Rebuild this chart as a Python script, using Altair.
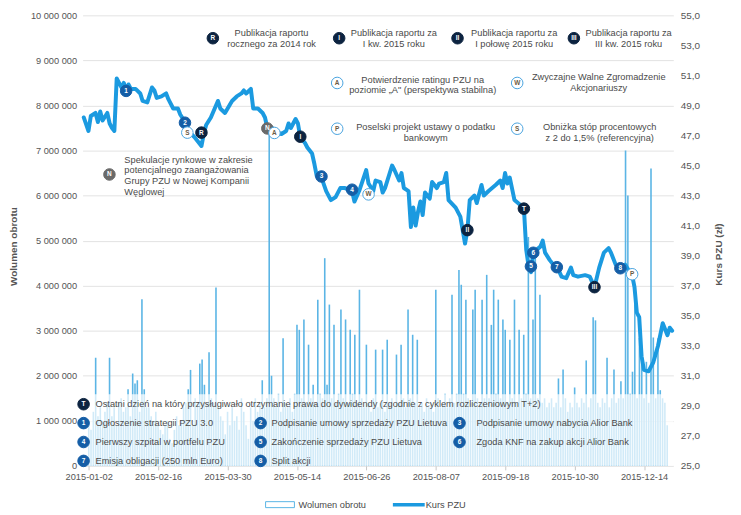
import altair as alt
import pandas as pd

# ---------------- data ----------------
date_ticks = ["2015-01-02", "2015-02-16", "2015-03-30", "2015-05-14", "2015-06-26",
              "2015-08-07", "2015-09-18", "2015-10-30", "2015-12-14"]
tick_days = [0, 30, 60, 90, 120, 150, 180, 210, 240]

# daily trading volume (millions of shares), trading day 0 = 2015-01-02
volume_mln = [
    1.0, 0.8, 1.2, 2.4, 1.1, 1.3, 1.0, 1.2, 1.4, 2.4,
    1.1, 1.3, 0.9, 1.4, 1.5, 1.2, 1.3, 1.7, 1.1, 2.05,
    1.83, 1.9, 1.2, 3.7, 1.7, 1.3, 1.3, 1.1, 1.0, 1.2,
    0.9, 0.8, 0.7, 0.9, 1.0, 0.6, 0.5, 0.8, 1.1, 0.9,
    1.0, 1.3, 1.4, 1.7, 2.13, 0.9, 1.5, 1.4, 2.27, 2.36,
    1.8, 1.4, 2.52, 1.5, 1.4, 3.96, 1.3, 1.1, 1.0, 0.7,
    1.2, 0.9, 1.3, 1.0, 1.1, 0.8, 1.5, 1.2, 0.9, 0.6,
    1.3, 1.0, 1.5, 1.2, 1.4, 1.9, 1.3, 1.5, 7.45, 2.0,
    1.5, 1.3, 1.6, 1.2, 2.83, 1.4, 1.3, 1.5, 1.2, 1.6,
    3.13, 3.02, 1.5, 3.25, 1.4, 2.69, 1.5, 1.8, 1.4, 3.69,
    1.6, 1.5, 4.61, 1.8, 3.58, 1.5, 3.13, 1.4, 1.6, 3.47,
    1.5, 3.25, 1.4, 3.02, 1.6, 2.91, 1.4, 3.91, 1.5, 1.3,
    2.69, 1.4, 1.2, 1.5, 2.58, 1.3, 1.4, 2.58, 1.2, 2.80,
    1.4, 1.5, 1.3, 2.47, 1.4, 2.69, 1.5, 1.3, 3.47, 1.5,
    2.91, 1.4, 2.80, 1.3, 1.4, 1.2, 1.5, 1.3, 1.4, 1.2,
    3.91, 1.5, 1.3, 1.4, 1.6, 1.3, 1.5, 3.80, 1.4, 1.6,
    4.35, 4.02, 1.6, 3.69, 1.5, 1.4, 3.47, 3.91, 1.5, 1.4,
    3.69, 1.5, 4.24, 1.5, 3.13, 3.91, 1.6, 3.69, 1.5, 3.25,
    3.02, 1.4, 2.80, 1.5, 3.69, 1.4, 3.02, 1.5, 2.91, 1.6,
    5.08, 1.5, 3.25, 4.79, 1.5, 3.80, 1.4, 1.5, 1.3, 1.4,
    1.5, 1.3, 1.4, 1.94, 1.3, 2.14, 1.5, 1.2, 1.4, 1.3,
    1.74, 1.4, 1.3, 1.5, 1.4, 2.34, 1.3, 1.5, 3.30, 3.23,
    1.4, 1.3, 1.5, 1.4, 2.40, 1.3, 1.5, 2.14, 1.4, 1.5,
    1.88, 1.5, 7.0, 6.0, 1.6, 2.09, 3.59, 1.5, 2.84, 2.51,
    1.5, 2.31, 1.4, 6.6, 2.85, 1.5, 2.83, 1.68, 1.5, 1.4, 0.9,
]

# PZU closing price (zł): (trading day, price)
price_series = [
    (0, 48.2), (2, 47.3), (3, 48.3), (5, 48.5), (6, 47.9), (7, 48.6), (8, 48.0), (10, 48.5),
    (11, 47.8), (12, 47.5), (13, 47.3), (14, 50.8), (16, 50.2), (17, 50.5), (18, 50.0),
    (19, 50.4), (20, 50.1), (22, 50.1), (24, 49.8), (25, 49.3), (27, 49.2), (29, 50.2),
    (30, 50.0), (31, 49.5), (33, 49.6), (35, 49.8), (36, 49.4), (38, 48.8), (40, 48.8),
    (41, 48.4), (43, 47.9), (45, 47.2), (47, 46.9), (48, 46.7), (49, 46.5), (50, 46.3),
    (51, 47.1), (52, 47.7), (54, 48.2), (57, 49.3), (58, 48.8), (60, 48.5), (63, 49.3),
    (65, 49.6), (67, 49.8), (68, 50.0), (69, 49.8), (71, 50.1), (72, 48.8), (74, 48.8),
    (76, 48.5), (77, 48.2), (78, 47.5), (80, 47.5), (82, 47.2), (84, 47.1), (86, 47.3),
    (87, 47.8), (88, 47.5), (90, 48.1), (91, 47.8), (92, 46.9), (94, 46.5), (95, 46.2),
    (97, 45.8), (98, 45.1), (99, 44.3), (101, 44.2), (103, 43.3), (105, 42.7), (107, 42.9),
    (109, 43.5), (111, 43.5), (114, 43.3), (115, 42.6), (117, 43.3), (120, 44.7), (121, 43.8),
    (123, 43.3), (124, 44.0), (126, 43.9), (127, 43.2), (128, 43.5), (131, 45.0), (132, 44.7),
    (134, 44.0), (135, 44.5), (136, 43.5), (138, 43.3), (139, 40.9), (140, 42.2), (141, 41.0),
    (142, 41.9), (143, 42.6), (144, 41.7), (145, 43.2), (147, 42.8), (148, 43.9), (150, 43.5),
    (151, 43.8), (153, 43.9), (154, 44.5), (155, 42.7), (158, 42.2), (160, 41.6), (162, 39.8),
    (163, 40.7), (164, 42.7), (166, 43.0), (167, 42.5), (169, 43.7), (170, 43.0), (172, 43.3),
    (175, 43.7), (177, 44.0), (178, 43.5), (179, 44.5), (180, 43.8), (181, 44.2), (183, 42.7),
    (186, 42.3), (187, 42.2), (188, 39.4), (189, 38.3), (190, 37.9), (191, 39.2), (194, 39.6),
    (195, 40.0), (196, 39.2), (198, 38.7), (199, 38.5), (201, 38.3), (203, 37.6), (205, 37.5),
    (207, 38.2), (208, 37.7), (210, 37.6), (213, 37.7), (215, 37.6), (217, 36.9), (219, 38.2),
    (221, 39.2), (223, 39.5), (224, 39.2), (226, 38.4), (228, 38.1), (230, 38.4), (232, 37.9),
    (233, 37.7), (234, 36.9), (235, 35.2), (236, 34.9), (237, 32.3), (238, 31.4), (240, 31.3),
    (242, 31.9), (244, 33.0), (246, 34.5), (248, 33.7), (249, 34.2), (250, 34.0),
]

# events marked on the price line
event_code = ["1", "2", "S", "R", "N", "A", "I", "3", "4", "W", "II", "T", "5", "6", "7", "III", "8", "P"]
event_day = [18, 43, 44, 50, 78, 81, 92, 101, 114, 121, 163, 187, 190, 191, 201, 217, 228, 233]
event_price = [49.97, 47.85, 47.19, 47.19, 47.47, 47.17, 46.92, 44.27, 43.39, 43.08, 40.70,
               42.13, 38.28, 39.19, 38.23, 36.90, 38.16, 37.76]

event_text = {
    "R": ["Publikacja raportu", "rocznego za 2014 rok"],
    "I": ["Publikacja raportu za", "I kw. 2015 roku"],
    "II": ["Publikacja raportu za", "I połowę 2015 roku"],
    "III": ["Publikacja raportu za", "III kw. 2015 roku"],
    "A": ["Potwierdzenie ratingu PZU na", "poziomie „A\" (perspektywa stabilna)"],
    "W": ["Zwyczajne Walne Zgromadzenie", "Akcjonariuszy"],
    "P": ["Poselski projekt ustawy o podatku", "bankowym"],
    "S": ["Obniżka stóp procentowych", "z 2 do 1,5% (referencyjna)"],
    "N": ["Spekulacje rynkowe w zakresie", "potencjalnego zaangażowania",
          "Grupy PZU w Nowej Kompanii", "Węglowej"],
    "T": ["Ostatni dzień na który przysługiwało otrzymanie prawa do dywidendy "
          "(zgodnie z cyklem rozliczeniowym T+2)"],
    "1": ["Ogłoszenie strategii PZU 3.0"],
    "2": ["Podpisanie umowy sprzedaży PZU Lietuva"],
    "3": ["Podpisanie umowy nabycia Alior Bank"],
    "4": ["Pierwszy szpital w portfelu PZU"],
    "5": ["Zakończenie sprzedaży PZU Lietuva"],
    "6": ["Zgoda KNF na zakup akcji Alior Bank"],
    "7": ["Emisja obligacji (250 mln Euro)"],
    "8": ["Split akcji"],
}

series_names = ["Wolumen obrotu", "Kurs PZU"]

# ---------------- style / layout ----------------
FONT = "Liberation Sans"
TXT = "#4a4a4a"
AX = "#555555"
BAR = "#5bb5e5"
LINE = "#1b9ae0"
NAVY = "#0c2340"
BLUE = "#155ea6"
GREY = "#6a6a6a"
RING = "#4aa3df"
W, H = 594, 453
OX, OY = 83, 14           # plot origin on the page
DOMAIN_X = [-0.5, 250.5]

kind_style = {  # fill, stroke, letter colour
    "report": (NAVY, NAVY, "white"),
    "num": (BLUE, BLUE, "white"),
    "grey": (GREY, GREY, "white"),
    "open": ("white", RING, "#6b5b45"),
}


def kind_of(code):
    if code in ("R", "I", "II", "III", "T"):
        return "report"
    if code == "N":
        return "grey"
    if code in ("A", "W", "P", "S"):
        return "open"
    return "num"


# legend layout (page pixels): code -> (marker x, marker y, text x, first line y, line step, align)
legend_layout = {
    "R": (214, 37, 273, 32, 11, "center"),
    "I": (341, 37, 396, 32, 11, "center"),
    "II": (460, 37, 517, 32, 11, "center"),
    "III": (577, 37, 632, 32, 11, "center"),
    "A": (339, 82, 425, 79, 10.5, "center"),
    "W": (520, 82, 602, 76, 11, "center"),
    "P": (339, 128, 428, 126, 11, "center"),
    "S": (520, 128, 603, 126, 11, "center"),
    "N": (110, 174, 125, 159, 11, "left"),
    "T": (84, 405, 96, 405, 0, "left"),
    "1": (84, 424, 96, 424, 0, "left"),
    "2": (262, 424, 273, 424, 0, "left"),
    "3": (462, 424, 479, 424, 0, "left"),
    "4": (84, 443, 96, 443, 0, "left"),
    "5": (262, 443, 273, 443, 0, "left"),
    "6": (462, 443, 479, 443, 0, "left"),
    "7": (84, 462, 96, 462, 0, "left"),
    "8": (262, 462, 273, 462, 0, "left"),
}

# ---------------- tables ----------------
vol_df = pd.DataFrame({"day": list(range(len(volume_mln))),
                       "vol": [v * 1_000_000 for v in volume_mln]})
price_df = pd.DataFrame(price_series, columns=["day", "price"])

ev_rows = []
for c, d, p in zip(event_code, event_day, event_price):
    f, s, t = kind_style[kind_of(c)]
    ev_rows.append({"code": c, "day": d, "price": p, "fill": f, "stroke": s, "tcol": t})
ev_df = pd.DataFrame(ev_rows)

lg_mark, lg_text = [], []
for c, (mx, my, tx, ty, step, al) in legend_layout.items():
    f, s, t = kind_style[kind_of(c)]
    lg_mark.append({"code": c, "px": mx - OX, "py": my - OY, "fill": f, "stroke": s, "tcol": t})
    for i, line in enumerate(event_text[c]):
        lg_text.append({"px": tx - OX, "py": ty + i * step - OY, "text": line, "align": al})
lg_mark_df = pd.DataFrame(lg_mark)
lg_text_df = pd.DataFrame(lg_text)

# ---------------- encodings ----------------
tick_expr = "[" + ",".join("'%s'" % d for d in date_ticks) + "][datum.value / 30]"

x_axis = alt.X("day:Q", scale=alt.Scale(domain=DOMAIN_X, nice=False, zero=False),
               axis=alt.Axis(values=tick_days, labelExpr=tick_expr, grid=False, domain=False,
                             ticks=True, tickSize=4, tickColor="#c8c8c8", labelPadding=3,
                             labelFont=FONT, labelFontSize=9.3, labelColor=AX, title=None))
x_plain = alt.X("day:Q", scale=alt.Scale(domain=DOMAIN_X, nice=False, zero=False), axis=None)

y_vol = alt.Y("vol:Q", scale=alt.Scale(domain=[0, 10_000_000], nice=False),
              axis=alt.Axis(values=list(range(0, 10_000_001, 1_000_000)),
                            labelExpr="replace(format(datum.value, ','), regexp(',', 'g'), ' ')",
                            grid=True, gridColor="#e3e3e3", ticks=False, domain=False,
                            labelPadding=6, labelFont=FONT, labelFontSize=9.3, labelColor=AX,
                            title="Wolumen obrotu", titleFont=FONT, titleFontSize=10,
                            titleFontWeight="bold", titleColor=AX, titleAngle=270,
                            titleX=-69, titleY=232, titleAlign="center", titleBaseline="middle"))

price_scale = alt.Scale(domain=[25, 55], nice=False, zero=False)
y_price = alt.Y("price:Q", scale=price_scale,
                axis=alt.Axis(orient="right", values=list(range(25, 56, 2)),
                              labelExpr="replace(format(datum.value, '.1f'), '.', ',')",
                              grid=False, ticks=False, domain=False, labelPadding=7,
                              labelFont=FONT, labelFontSize=10, labelColor=AX,
                              title="Kurs PZU (zł)", titleFont=FONT, titleFontSize=10,
                              titleFontWeight="bold", titleColor=AX, titleAngle=270,
                              titleX=45, titleY=240, titleAlign="center", titleBaseline="middle"))
y_price_plain = alt.Y("price:Q", scale=price_scale, axis=None)

px = alt.X("px:Q", scale=None, axis=None)
py = alt.Y("py:Q", scale=None, axis=None)

# ---------------- layers ----------------
bars = alt.Chart(vol_df).mark_bar(size=1.6, color=BAR).encode(x=x_axis, y=y_vol)

veil = alt.Chart(pd.DataFrame({"k": [0]})).mark_rect(fill="white", opacity=0.72).encode(
    x=alt.value(0), x2=alt.value(W), y=alt.value(395 - OY), y2=alt.value(H))

line = alt.Chart(price_df).mark_line(color=LINE, strokeWidth=4, strokeJoin="round",
                                     strokeCap="round").encode(x=x_plain, y=y_price)

ev_pts = alt.Chart(ev_df).mark_point(shape="circle", filled=True, size=135, strokeWidth=1,
                                     opacity=1).encode(
    x=x_plain, y=y_price_plain,
    fill=alt.Fill("fill:N", scale=None), stroke=alt.Stroke("stroke:N", scale=None))
ev_lbl = alt.Chart(ev_df).mark_text(font=FONT, fontSize=6.5, fontWeight="bold").encode(
    x=x_plain, y=y_price_plain, text="code:N", color=alt.Color("tcol:N", scale=None))

lg_pts = alt.Chart(lg_mark_df).mark_point(shape="circle", filled=True, size=135, strokeWidth=1,
                                          opacity=1).encode(
    x=px, y=py, fill=alt.Fill("fill:N", scale=None), stroke=alt.Stroke("stroke:N", scale=None))
lg_lbl = alt.Chart(lg_mark_df).mark_text(font=FONT, fontSize=6.5, fontWeight="bold").encode(
    x=px, y=py, text="code:N", color=alt.Color("tcol:N", scale=None))

txt_left = alt.Chart(lg_text_df[lg_text_df["align"] == "left"]).mark_text(
    font=FONT, fontSize=9.3, color=TXT, align="left", baseline="middle").encode(x=px, y=py, text="text:N")
txt_center = alt.Chart(lg_text_df[lg_text_df["align"] == "center"]).mark_text(
    font=FONT, fontSize=9.3, color=TXT, align="center", baseline="middle").encode(x=px, y=py, text="text:N")

# bottom series legend
key_rect = alt.Chart(pd.DataFrame({"k": [0]})).mark_rect(fill="white", stroke=BAR, strokeWidth=1).encode(
    x=alt.value(267 - OX), x2=alt.value(296 - OX), y=alt.value(503 - OY), y2=alt.value(509 - OY))
key_rule = alt.Chart(pd.DataFrame({"k": [0]})).mark_rule(color=LINE, strokeWidth=3.5).encode(
    x=alt.value(395 - OX), x2=alt.value(427 - OX), y=alt.value(506 - OY))
key_text = alt.Chart(pd.DataFrame({"px": [300 - OX, 428 - OX], "py": [506 - OY, 506 - OY],
                                   "text": series_names})).mark_text(
    font=FONT, fontSize=9.3, color=TXT, align="left", baseline="middle").encode(x=px, y=py, text="text:N")

chart = alt.layer(
    bars, veil, line, ev_pts, ev_lbl, lg_pts, lg_lbl, txt_left, txt_center,
    key_rect, key_rule, key_text,
).resolve_scale(x="independent", y="independent").properties(
    width=W, height=H, autosize="none",
    padding={"left": OX - 8, "top": OY - 8, "right": 60, "bottom": 46},
).configure_view(stroke=None)

chart.save("out.html", embed_options={"renderer": "svg", "actions": False})
